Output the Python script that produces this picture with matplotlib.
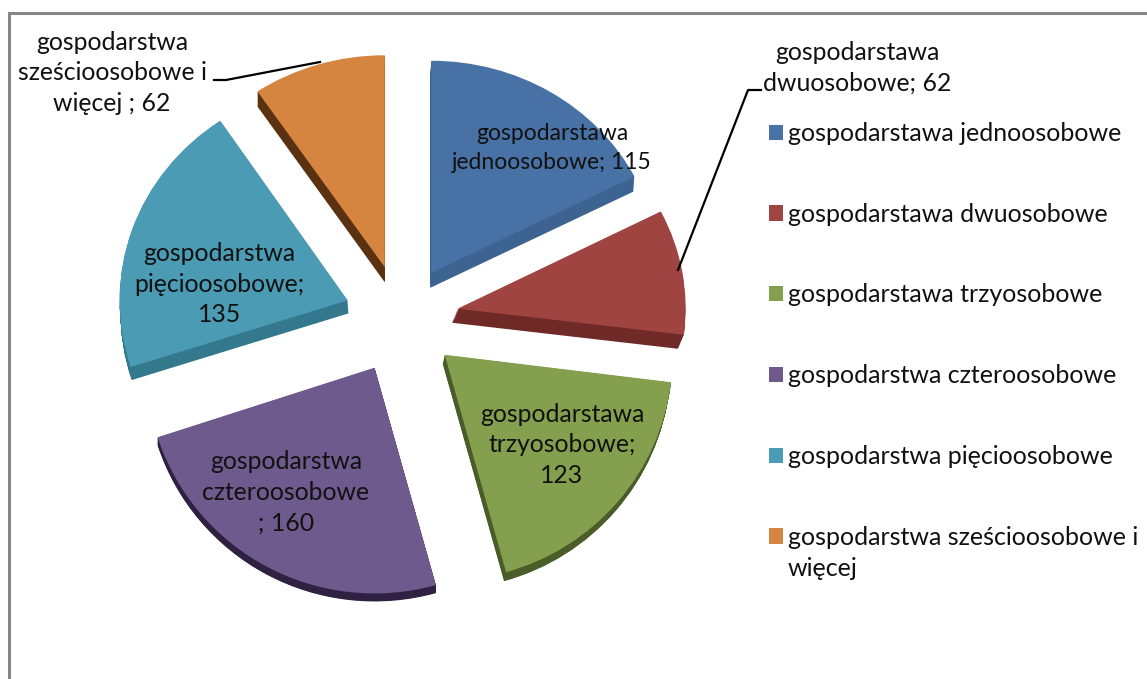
# plot.py - exploded pie of households by size
import numpy as np
import matplotlib
matplotlib.use('Agg')
import matplotlib.pyplot as plt
from matplotlib.transforms import Affine2D

plt.rcParams['font.family'] = ['Lato', 'DejaVu Sans']

# Data
values = [115, 62, 123, 160, 135, 62]
legend_labels = ['gospodarstawa jednoosobowe', 'gospodarstawa dwuosobowe',
                 'gospodarstawa trzyosobowe', 'gospodarstwa czteroosobowe',
                 'gospodarstwa pięcioosobowe', 'gospodarstwa sześcioosobowe i']
legend_tail = 'więcej'
data_labels = ['gospodarstawa\njednoosobowe; 115', 'gospodarstawa\ndwuosobowe; 62',
               'gospodarstawa\ntrzyosobowe;\n123', 'gospodarstwa\nczteroosobowe\n; 160',
               'gospodarstwa\npięcioosobowe;\n135', 'gospodarstwa\nsześcioosobowe i\nwięcej ; 62']

# Colours
top_colors = ['#4872A5', '#A04442', '#84A04E', '#6E5A8C', '#4A9BB3', '#D58540']
side_colors = ['#3D6390', '#6F2A28', '#4A5C28', '#2E2142', '#34788E', '#5A3212']

# Layout, in pixels of the 1147x679 picture
CENTER = (401.5, 318)
RADIUS = 228
EXPLODE = 57
SQUASH = [0.93, 0.94, 0.99, 0.99, 0.95, 0.93]  # the far slices look shorter
DEPTH_X = [-1, -6, -2, 0, 1, 0]
DEPTH_Y = [15, 14, 9, 8, 13, 15]
LABEL_POS = [(552, 148, 16.5), (857, 68, 17.8), (562, 445, 17.8),
             (286, 492, 17.8), (219, 284, 17.8), (112, 73, 17.8)]


def draw_layer(ax, colors, step):
    """One pie layer, step 1 is the bottom of the slab and 0 the top face"""
    wedges, _ = ax.pie(values, explode=[EXPLODE] * len(values), colors=colors,
                       startangle=-90, center=CENTER, radius=RADIUS, frame=True,
                       wedgeprops={'linewidth': 0})
    for i, w in enumerate(wedges):
        cx, cy = w.center
        w.set_center((cx + DEPTH_X[i] * step, cy))
        squash = Affine2D().translate(0, -CENTER[1]).scale(1, SQUASH[i]).translate(0, CENTER[1] + DEPTH_Y[i] * step)
        w.set_transform(squash + ax.transData)
    return wedges


def main():
    fig = plt.figure(figsize=(11.47, 6.79), dpi=100)
    ax = fig.add_axes([0, 0, 1, 1])

    for step in np.linspace(1, 0.05, 16):
        draw_layer(ax, side_colors, step)
    wedges = draw_layer(ax, top_colors, 0)

    ax.set_xlim(0, 1147)
    ax.set_ylim(679, 0)
    ax.set_aspect('auto')
    ax.axis('off')

    # Chart area border, only top and left are in the crop
    ax.plot([9, 9, 1147], [679, 13, 13], color='#868686', lw=2.2, solid_joinstyle='miter')

    # Leader lines
    ax.plot([214, 226, 320], [80, 80, 62], color='black', lw=1.6)
    ax.plot([761, 748, 678], [90, 90, 270], color='black', lw=1.6)

    for text, (x, y, size) in zip(data_labels, LABEL_POS):
        ax.text(x, y, text, ha='center', va='center', fontsize=size,
                color='#111111', linespacing=1.42)

    leg = ax.legend(wedges, legend_labels, loc='upper left', bbox_to_anchor=(769 / 1147, 1 - 122 / 679),
                    frameon=False, fontsize=18, handlelength=0.56, handleheight=0.56,
                    handletextpad=0.2, labelspacing=2.31, borderpad=0, borderaxespad=0)
    for text in leg.get_texts():
        text.set_color('#111111')
    ax.text(788, 568, legend_tail, ha='left', va='center', fontsize=18, color='#111111')

    fig.savefig('out.png', dpi=100)
    plt.close(fig)


if __name__ == "__main__":
    main()
